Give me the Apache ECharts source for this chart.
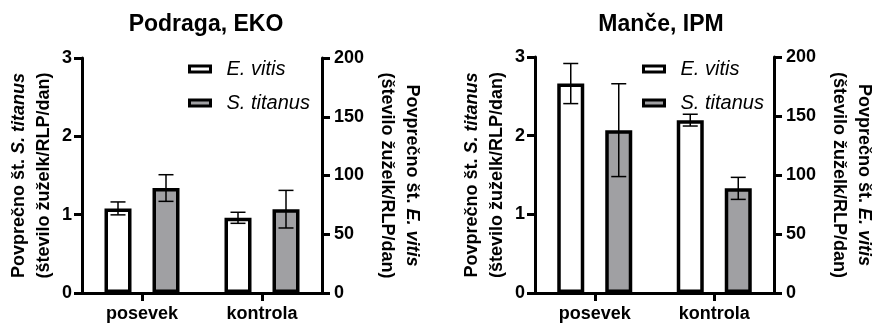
<!DOCTYPE html>
<html>
<head>
    <meta charset="utf-8">
    <title>ECharts</title>
    <script src="https://cdn.jsdelivr.net/npm/echarts@6/dist/echarts.min.js"></script>
    <style type="text/css">
        html, body { margin: 0; padding: 0; background: #fff; }
        #main { width: 877px; height: 325px; }
    </style>
</head>
<body>
<div id="main"></div>
<script type="text/javascript">
    // podatki
    var categories = ['posevek', 'kontrola'];
    var panelTitles = ['Podraga, EKO', 'Manče, IPM'];
    var seriesNames = ['E. vitis', 'S. titanus'];

    // Podraga, EKO
    var ekoVitis = [72, 64];          // desna os (0-200)
    var ekoVitisErr = [5.5, 4.7];
    var ekoTitanus = [1.34, 1.07];    // leva os (0-3)
    var ekoTitanusErr = [0.17, 0.24];

    // Manče, IPM
    var ipmVitis = [177.5, 146.5];
    var ipmVitisErr = [17, 5];
    var ipmTitanus = [2.07, 1.33];
    var ipmTitanusErr = [0.59, 0.14];

    var leftTicks = [0, 1, 2, 3];
    var rightTicks = [0, 50, 100, 150, 200];

    var FONT = 'Liberation Sans, Arial, sans-serif';
    var BAR_W = 27, BAR_GAP = 21, BORDER = 3.5;
    var GREY = '#a0a0a3';

    var chart = echarts.init(document.getElementById('main'));

    function errItems(mean, err) {
        return mean.map(function (m, i) { return [i, m - err[i], m + err[i]]; });
    }

    function errRender(side) {
        return function (params, api) {
            var shift = side * (BAR_W + BAR_GAP) / 2;
            var lo = api.coord([api.value(0), api.value(1)]);
            var hi = api.coord([api.value(0), api.value(2)]);
            var x = lo[0] + shift, cap = 7.5;
            var st = {stroke: '#000', lineWidth: 1.5};
            return {
                type: 'group',
                children: [
                    {type: 'line', shape: {x1: x, y1: lo[1], x2: x, y2: hi[1]}, style: st},
                    {type: 'line', shape: {x1: x - cap, y1: lo[1], x2: x + cap, y2: lo[1]}, style: st},
                    {type: 'line', shape: {x1: x - cap, y1: hi[1], x2: x + cap, y2: hi[1]}, style: st}
                ]
            };
        };
    }

    var axisLine = {show: true, lineStyle: {color: '#000', width: 3}};
    var axisTick = {show: true, inside: false, length: 8, lineStyle: {color: '#000', width: 3}};
    var tickLabel = {color: '#000', fontSize: 18, fontWeight: 'bold', fontFamily: FONT};
    var nameStyle = {
        color: '#000', fontSize: 18, fontWeight: 'bold', fontFamily: FONT, lineHeight: 25,
        rich: {i: {fontStyle: 'italic', fontWeight: 'bold', fontSize: 18, fontFamily: FONT, lineHeight: 25, color: '#000'}}
    };

    var grids = [
        {left: 82, top: 58, width: 240, height: 235},
        {left: 535, top: 57, width: 242, height: 236}
    ];
    var titleX = [201, 656];
    var legendX = [183, 637];

    var option = {
        animation: false,
        backgroundColor: '#fff',
        title: [], grid: grids, xAxis: [], yAxis: [], legend: [], series: []
    };

    var panels = [
        [ekoVitis, ekoVitisErr, ekoTitanus, ekoTitanusErr],
        [ipmVitis, ipmVitisErr, ipmTitanus, ipmTitanusErr]
    ];

    panels.forEach(function (p, k) {
        option.title.push({
            text: panelTitles[k], left: titleX[k], top: 8, textAlign: 'center',
            textStyle: {color: '#000', fontSize: 23, fontWeight: 'bold', fontFamily: FONT}
        });
        option.xAxis.push({
            type: 'category', gridIndex: k, data: categories,
            axisLine: axisLine,
            axisTick: {show: true, alignWithLabel: true, length: 8, lineStyle: {color: '#000', width: 3}},
            axisLabel: Object.assign({margin: 12}, tickLabel),
            splitLine: {show: false}
        });
        // leva os: S. titanus
        option.yAxis.push({
            type: 'value', gridIndex: k, position: 'left', min: leftTicks[0], max: leftTicks[leftTicks.length - 1],
            interval: 1,
            name: 'Povprečno št. {i|S. titanus}\n(število žuželk/RLP/dan)',
            nameLocation: 'middle', nameRotate: 90, nameGap: 25, nameTextStyle: nameStyle,
            axisLine: axisLine, axisTick: axisTick,
            axisLabel: Object.assign({margin: 10}, tickLabel),
            splitLine: {show: false}
        });
        // desna os: E. vitis
        option.yAxis.push({
            type: 'value', gridIndex: k, position: 'right', min: rightTicks[0], max: rightTicks[rightTicks.length - 1],
            interval: 50,
            name: 'Povprečno št. {i|E. vitis}\n(število žuželk/RLP/dan)',
            nameLocation: 'middle', nameRotate: -90, nameGap: 52, nameTextStyle: nameStyle,
            axisLine: axisLine, axisTick: axisTick,
            axisLabel: Object.assign({margin: 12}, tickLabel),
            splitLine: {show: false}
        });
        option.legend.push({
            orient: 'vertical', left: legendX[k], top: 53, itemWidth: 21, itemHeight: 6, itemGap: 12,
            icon: 'rect',
            textStyle: {color: '#000', fontSize: 20, fontStyle: 'italic', fontFamily: FONT, lineHeight: 22,
                padding: [0, 0, 0, 11]},
            data: [
                {name: seriesNames[0], itemStyle: {color: '#fff', borderColor: '#000', borderWidth: 3}},
                {name: seriesNames[1], itemStyle: {color: GREY, borderColor: '#000', borderWidth: 3}}
            ]
        });
        option.series.push({
            name: seriesNames[0], type: 'bar', xAxisIndex: k, yAxisIndex: 2 * k + 1,
            data: p[0], barWidth: BAR_W, barGap: (BAR_GAP / BAR_W * 100) + '%',
            itemStyle: {color: '#fff', borderColor: '#000', borderWidth: BORDER}
        });
        option.series.push({
            name: seriesNames[1], type: 'bar', xAxisIndex: k, yAxisIndex: 2 * k,
            data: p[2], barWidth: BAR_W, barGap: (BAR_GAP / BAR_W * 100) + '%',
            itemStyle: {color: GREY, borderColor: '#000', borderWidth: BORDER}
        });
        option.series.push({
            type: 'custom', xAxisIndex: k, yAxisIndex: 2 * k + 1, z: 5,
            renderItem: errRender(-1), data: errItems(p[0], p[1])
        });
        option.series.push({
            type: 'custom', xAxisIndex: k, yAxisIndex: 2 * k, z: 5,
            renderItem: errRender(1), data: errItems(p[2], p[3])
        });
    });

    chart.setOption(option);
</script>
</body>
</html>
